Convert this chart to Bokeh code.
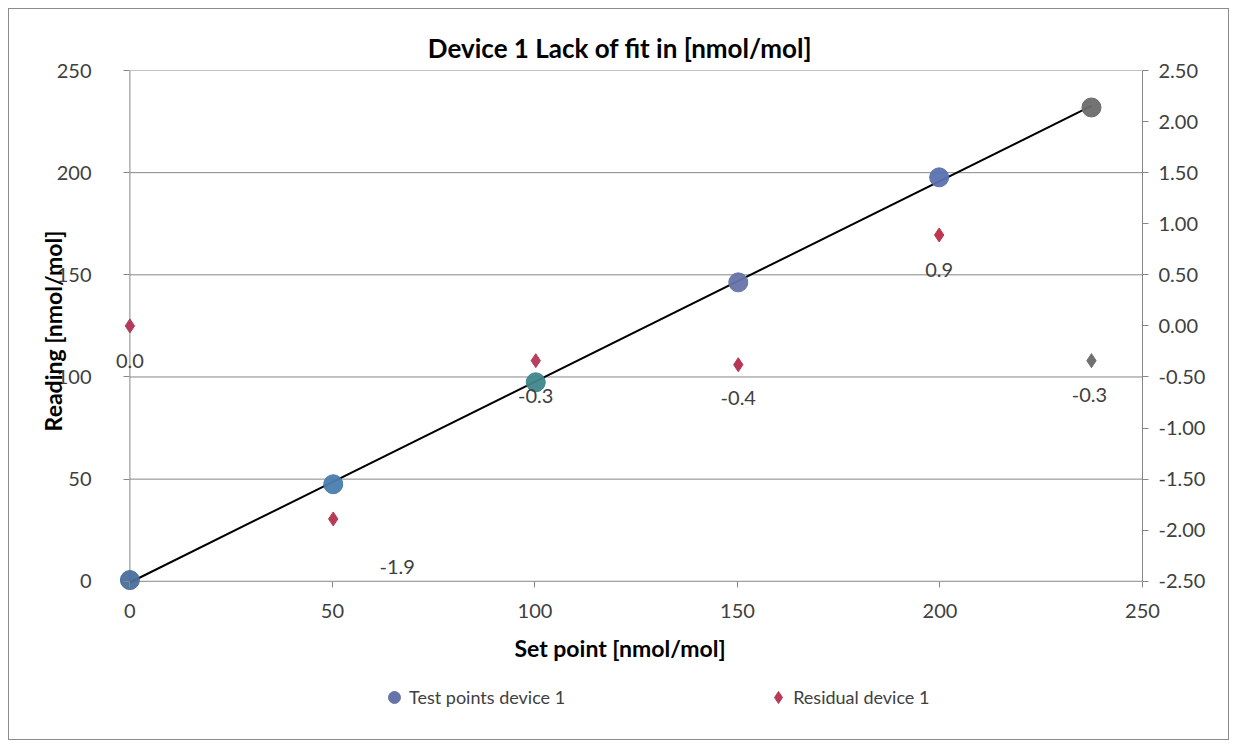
from bokeh.plotting import figure
from bokeh.layouts import column
from bokeh.models import Range1d, LinearAxis, Legend, LegendItem, ColumnDataSource, NumeralTickFormatter, FixedTicker
from bokeh.core.properties import value
from bokeh.embed import file_html
from bokeh.resources import INLINE
import numpy as np

# ---- data ----
set_points = [0.0, 50.2, 100.2, 150.2, 199.8, 237.4]
readings = [0.6, 47.5, 97.4, 146.3, 197.7, 231.9]
residuals = [0.0, -1.89, -0.34, -0.38, 0.89, -0.34]
point_colors = ["#4a6f9c", "#4a7db0", "#3f878c", "#6674a8", "#5b72b0", "#6b6b6b"]
resid_colors = ["#b23a5c", "#b83a55", "#b8405e", "#b83655", "#c0364f", "#707070"]
label_dx = [0, 64, 0, 0, 0, -2]
label_dy = [35, 48, 35, 33, 35, 34]
x_ticks = [0, 50, 100, 150, 200, 250]
y_ticks = [0, 50, 100, 150, 200, 250]
res_ticks = [-2.5, -2.0, -1.5, -1.0, -0.5, 0.0, 0.5, 1.0, 1.5, 2.0, 2.5]

FONT = "Lato"
TXT = "#404040"
GRID = "#868686"
BORDER = "1px solid #8c8c8c"

# linear fit for the line
slope, intercept = np.polyfit(set_points, readings, 1)
fit_x = [set_points[0], set_points[-1]]
fit_y = [intercept + slope * xv for xv in fit_x]

# small padding below/left of zero so the marks at the origin are not clipped
x_lo = -8.0
y_lo = -5.0
res_lo = res_ticks[0] + (y_lo - y_ticks[0]) * (res_ticks[-1] - res_ticks[0]) / (y_ticks[-1] - y_ticks[0])

p = figure(width=1221, height=664, output_backend="svg", toolbar_location=None,
           x_range=Range1d(x_lo, 250), y_range=Range1d(y_lo, 250),
           min_border_left=88, min_border_right=88, min_border_top=61, min_border_bottom=82,
           margin=(8, 8, 0, 8),
           title="Device 1 Lack of fit in [nmol/mol]")
p.styles = {"border-left": BORDER, "border-right": BORDER, "border-top": BORDER}
p.background_fill_color = "white"
p.border_fill_color = "white"
p.outline_line_color = None

p.title.align = "center"
p.title.text_font = FONT
p.title.text_font_size = "26px"
p.title.text_font_style = "bold"
p.title.text_color = "#000000"
p.title.standoff = 14

p.extra_y_ranges = {"res": Range1d(res_lo, 2.5)}
raxis = LinearAxis(y_range_name="res")
p.add_layout(raxis, "right")

for ax in [p.xaxis[0], p.yaxis[0], raxis]:
    ax.axis_line_color = GRID
    ax.major_tick_line_color = GRID
    ax.minor_tick_line_color = None
    ax.major_tick_in = 0
    ax.major_tick_out = 6
    ax.major_label_text_font = FONT
    ax.major_label_text_font_size = "20px"
    ax.major_label_text_color = TXT
    ax.axis_label_text_font = FONT
    ax.axis_label_text_font_size = "23px"
    ax.axis_label_text_font_style = "bold"
    ax.axis_label_text_color = "#000000"

xa = p.xaxis[0]
ya = p.yaxis[0]
xa.ticker = FixedTicker(ticks=x_ticks)
ya.ticker = FixedTicker(ticks=y_ticks)
raxis.ticker = FixedTicker(ticks=res_ticks)
raxis.formatter = NumeralTickFormatter(format="0.00")
xa.bounds = (x_ticks[0], x_ticks[-1])
ya.bounds = (y_ticks[0], y_ticks[-1])
raxis.bounds = (res_ticks[0], res_ticks[-1])

# the frame edge sits a little outside the zero lines: shift ticks/labels onto them
xa.axis_line_color = None
ya.axis_line_color = None
ya.major_tick_in = 32
ya.major_tick_out = -26
ya.major_label_standoff = 6
ya.axis_label_standoff = -13
xa.major_tick_in = 10
xa.major_tick_out = -4
xa.major_label_standoff = 12
xa.axis_label_standoff = 13
raxis.major_label_standoff = 10

xa.axis_label = "Set point [nmol/mol]"
ya.axis_label = "Reading [nmol/mol]"

p.xgrid.visible = False
p.ygrid.visible = False
# horizontal gridlines (and x axis line at 0) spanning the axis extent only
p.segment(x0=x_ticks[0], x1=x_ticks[-1], y0=y_ticks, y1=y_ticks,
          line_color=GRID, line_width=1)
# left axis line at x = 0
p.segment(x0=x_ticks[0], x1=x_ticks[0], y0=y_ticks[0], y1=y_ticks[-1],
          line_color=GRID, line_width=1)

# fit line
p.line(fit_x, fit_y, line_color="black", line_width=2)

src_pts = ColumnDataSource(dict(x=set_points, y=readings, c=point_colors))
r_pts = p.scatter("x", "y", source=src_pts, size=19, marker="circle",
                  fill_color="c", line_color="c", fill_alpha=0.95)

res_labels = [f"{v:.1f}" for v in residuals]
src_res = ColumnDataSource(dict(x=set_points, y=residuals, c=resid_colors, t=res_labels,
                                dx=label_dx, dy=label_dy))
r_res = p.scatter("x", "y", source=src_res, y_range_name="res", size=14, marker="diamond",
                  fill_color="c", line_color="c")
p.text("x", "y", text="t", source=src_res, y_range_name="res", x_offset="dx", y_offset="dy",
       text_align="center", text_baseline="middle", text_font=value(FONT),
       text_font_size="20px", text_color=TXT)

# legend strip below the chart
p2 = figure(width=1221, height=68, output_backend="svg", toolbar_location=None,
            x_range=Range1d(0, 1), y_range=Range1d(0, 1), x_axis_type=None, y_axis_type=None,
            min_border=0, margin=(0, 8, 8, 8))
p2.styles = {"border-left": BORDER, "border-right": BORDER, "border-bottom": BORDER}
p2.outline_line_color = None
p2.grid.visible = False
nan = [float("nan")]
l_pts = p2.scatter(x=nan, y=nan, marker="circle", size=12,
                   fill_color=point_colors[3], line_color=point_colors[3])
l_res = p2.scatter(x=nan, y=nan, marker="diamond", size=12,
                   fill_color=resid_colors[1], line_color=resid_colors[1])
legend = Legend(items=[LegendItem(label="Test points device 1", renderers=[l_pts]),
                       LegendItem(label="Residual device 1", renderers=[l_res])],
                orientation="horizontal", location=(282, 28), spacing=198,
                label_text_font=FONT, label_text_font_size="18px", label_text_color=TXT,
                border_line_color=None, background_fill_alpha=0, padding=0, margin=0,
                glyph_width=30, glyph_height=30, label_standoff=0)
p2.add_layout(legend, "center")

layout = column(p, p2, spacing=0)
open("out.html", "w").write(file_html(layout, INLINE))
